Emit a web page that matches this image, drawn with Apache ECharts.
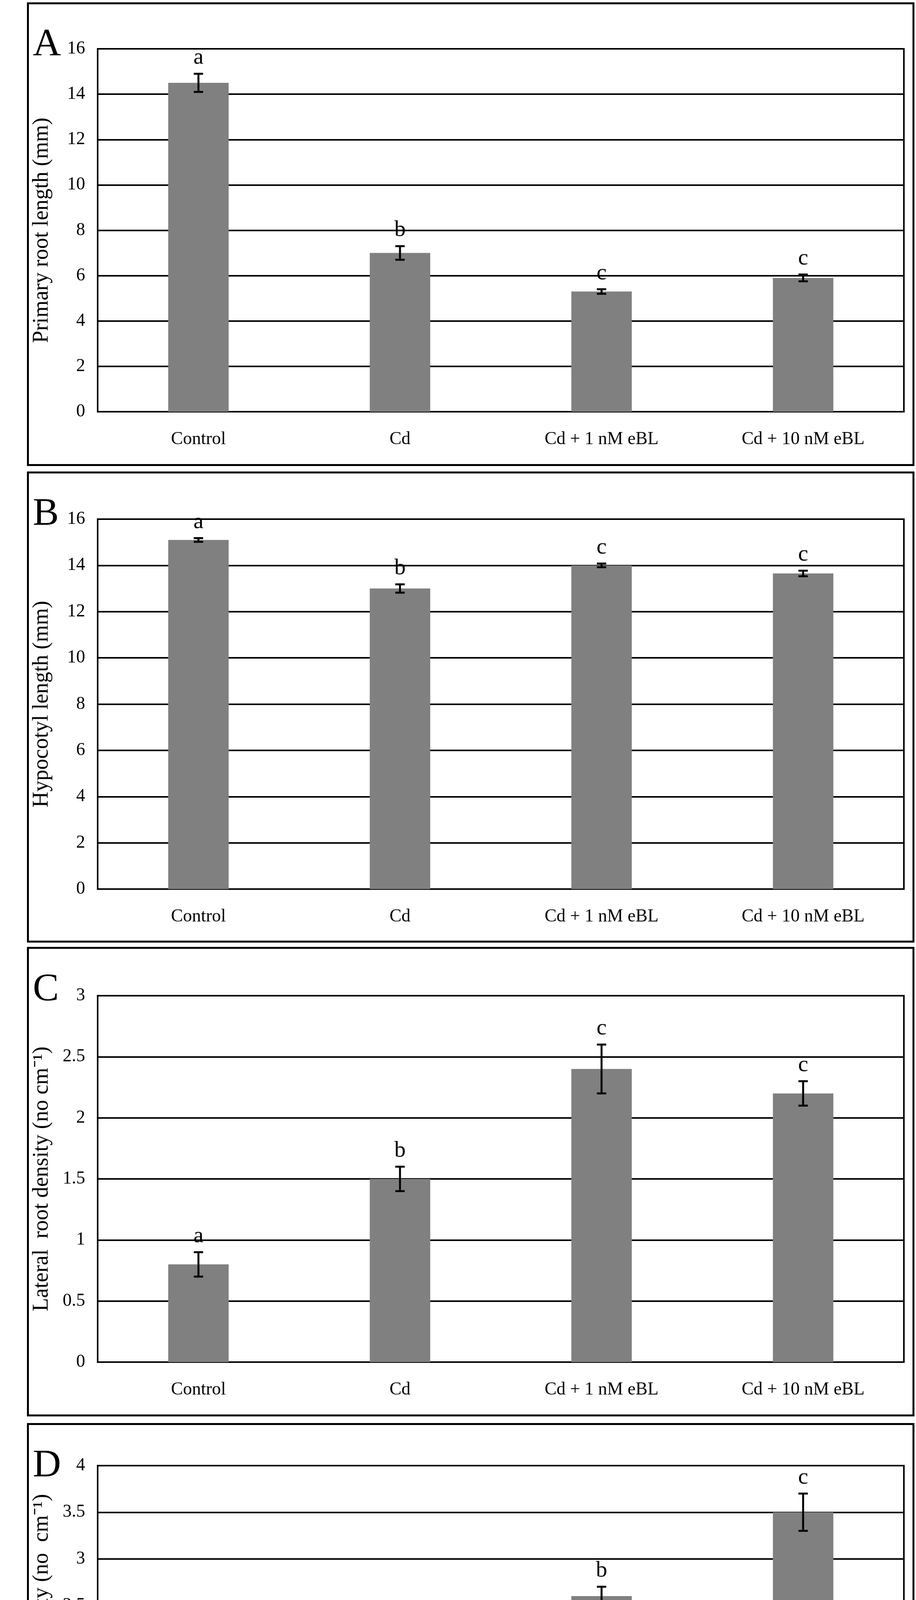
<!DOCTYPE html>
<html>
<head>
<meta charset="utf-8" />
<script src="https://cdn.jsdelivr.net/npm/echarts@6/dist/echarts.min.js"></script>
</head>
<body style="margin:0;background:#fff">
<div id="container" style="width:2345px;height:4888px;"></div>
<script type="text/javascript">
var categories = ['Control', 'Cd', 'Cd + 1 nM eBL', 'Cd + 10 nM eBL'];

var valuesA = [14.5, 7.0, 5.3, 5.9];
var errorsA = [0.4, 0.3, 0.1, 0.15];
var lettersA = ['a', 'b', 'c', 'c'];

var valuesB = [15.1, 13.0, 14.0, 13.65];
var errorsB = [0.08, 0.18, 0.08, 0.12];
var lettersB = ['a', 'b', 'c', 'c'];

var valuesC = [0.8, 1.5, 2.4, 2.2];
var errorsC = [0.1, 0.1, 0.2, 0.1];
var lettersC = ['a', 'b', 'c', 'c'];

var valuesD = [1.7, 1.6, 2.6, 3.5];
var errorsD = [0.15, 0.2, 0.1, 0.2];
var lettersD = ['a', 'a', 'b', 'c'];

var panels = [
    { tag: 'A', name: 'Primary root length (mm)', max: 16, interval: 2, values: valuesA, errors: errorsA, letters: lettersA },
    { tag: 'B', name: 'Hypocotyl length (mm)', max: 16, interval: 2, values: valuesB, errors: errorsB, letters: lettersB },
    { tag: 'C', name: 'Lateral  root density (no cm\u207B\u00B9)', max: 3, interval: 0.5, values: valuesC, errors: errorsC, letters: lettersC },
    { tag: 'D', name: 'Adventitious root density (no  cm\u207B\u00B9)', max: 4, interval: 0.5, values: valuesD, errors: errorsD, letters: lettersD }
];

var grids = [
    { top: 125, height: 929 },
    { top: 1329, height: 947 },
    { top: 2549, height: 938 },
    { top: 3752, height: 954 }
];
var boxes = [
    { y: 6, h: 1182 },
    { y: 1207, h: 1201 },
    { y: 2424, h: 1197 },
    { y: 3643, h: 1220 }
];

var font = 'Liberation Serif';
var option = {
    backgroundColor: '#fff',
    animation: false,
    grid: [], xAxis: [], yAxis: [], series: [], graphic: []
};

panels.forEach(function (p, i) {
    option.grid.push({
        left: 250, right: 31, top: grids[i].top, height: grids[i].height,
        show: true, borderColor: '#000', borderWidth: 4
    });
    option.xAxis.push({
        type: 'category', gridIndex: i, data: categories,
        axisLine: { lineStyle: { color: '#000', width: 4 } },
        axisTick: { show: false },
        axisLabel: { color: '#000', fontFamily: font, fontSize: 46, margin: 48 }
    });
    option.yAxis.push({
        type: 'value', gridIndex: i, min: 0, max: p.max, interval: p.interval,
        name: p.name, nameLocation: 'middle', nameGap: 115,
        nameTextStyle: { color: '#000', fontFamily: font, fontSize: 56 },
        axisLine: { show: false }, axisTick: { show: false },
        axisLabel: { color: '#000', fontFamily: font, fontSize: 46, margin: 32 },
        splitLine: { lineStyle: { color: '#000', width: 4 } }
    });
    option.series.push({
        type: 'bar', xAxisIndex: i, yAxisIndex: i, data: p.values,
        barWidth: '30%', itemStyle: { color: '#808080' }, z: 3
    });
    option.series.push({
        type: 'custom', xAxisIndex: i, yAxisIndex: i, z: 5,
        data: p.values.map(function (v, k) { return [k, v, p.errors[k]]; }),
        renderItem: function (params, api) {
            var x = api.value(0), v = api.value(1), e = api.value(2);
            var hi = api.coord([x, v + e]);
            var lo = api.coord([x, v - e]);
            var w = 12;
            var st = { stroke: '#000', lineWidth: 5 };
            return {
                type: 'group',
                children: [
                    { type: 'line', shape: { x1: hi[0], y1: hi[1], x2: lo[0], y2: lo[1] }, style: st },
                    { type: 'line', shape: { x1: hi[0] - w, y1: hi[1], x2: hi[0] + w, y2: hi[1] }, style: st },
                    { type: 'line', shape: { x1: lo[0] - w, y1: lo[1], x2: lo[0] + w, y2: lo[1] }, style: st },
                    { type: 'text', x: hi[0], y: hi[1] - 12,
                      style: { text: p.letters[params.dataIndex], fill: '#000', font: '58px "' + font + '"', align: 'center', verticalAlign: 'bottom' } }
                ]
            };
        }
    });
    option.graphic.push({
        type: 'rect', left: 69, top: boxes[i].y,
        shape: { width: 2267, height: boxes[i].h },
        style: { fill: 'none', stroke: '#000', lineWidth: 5 }
    });
    option.graphic.push({
        type: 'text', left: 84, top: boxes[i].y + 60,
        style: { text: p.tag, fill: '#000', font: '100px "' + font + '"' }
    });
});

var myChart = echarts.init(document.getElementById('container'));
myChart.setOption(option);
</script>
</body>
</html>
